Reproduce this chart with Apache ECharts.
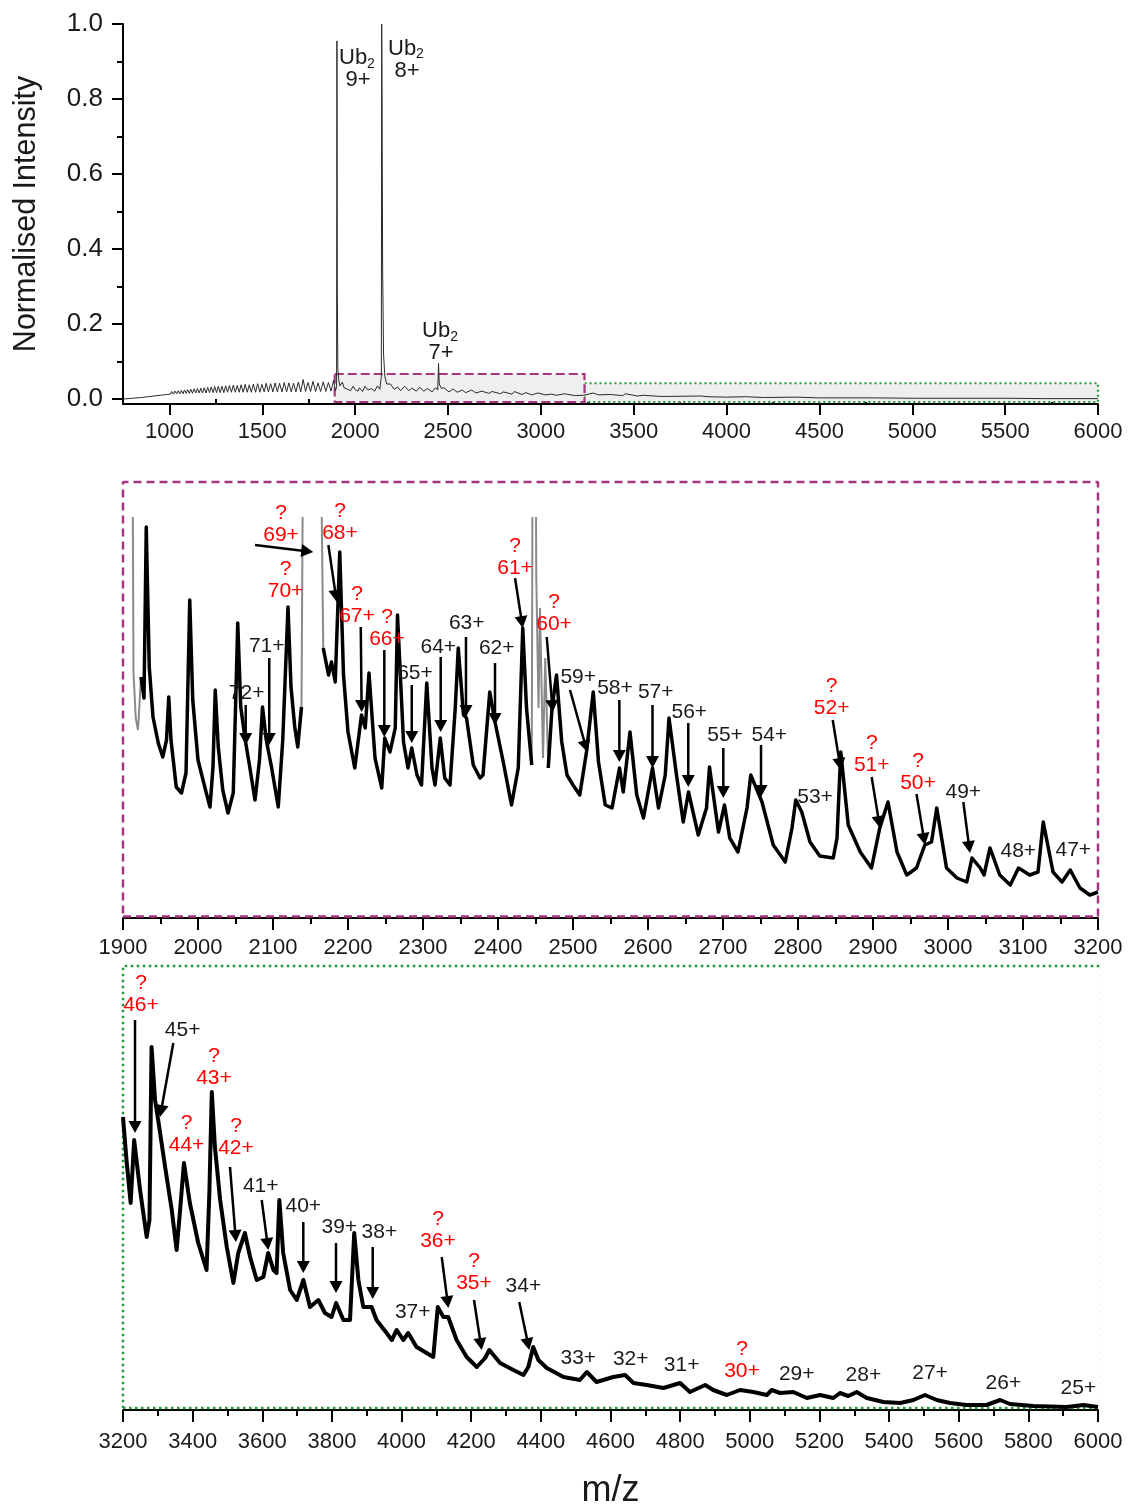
<!DOCTYPE html>
<html>
<head>
<meta charset="utf-8">
<script src="https://cdn.jsdelivr.net/npm/echarts@6/dist/echarts.min.js"></script>
<style>
html, body { margin: 0; padding: 0; background: #ffffff; }
#chart { width: 1129px; height: 1506px; }
</style>
</head>
<body>
<div id="chart"></div>
<script>
// ---------- Overview spectrum (normalised intensity vs m/z) ----------
const overviewTrace = [
  [750,0.000],[800,0.002],[850,0.004],[900,0.007],[950,0.010],[985,0.012],
  [1005,0.013],[1012,0.020],[1021,0.013],[1030,0.021],[1039,0.014],[1047,0.022],[1056,0.014],[1064,0.023],
  [1073,0.014],[1081,0.024],[1090,0.015],[1098,0.025],[1107,0.015],[1115,0.026],[1124,0.015],[1133,0.027],
  [1142,0.016],[1151,0.028],[1160,0.016],[1169,0.029],[1178,0.016],[1187,0.030],[1197,0.016],[1206,0.031],
  [1216,0.017],[1225,0.032],[1235,0.017],[1244,0.033],[1254,0.017],[1263,0.034],[1273,0.017],[1283,0.034],
  [1293,0.017],[1303,0.035],[1313,0.018],[1323,0.036],[1334,0.018],[1344,0.037],[1355,0.018],[1365,0.036],
  [1376,0.018],[1386,0.038],[1397,0.018],[1408,0.039],[1419,0.018],[1430,0.038],[1441,0.018],[1452,0.040],
  [1464,0.018],[1475,0.041],[1487,0.018],[1498,0.039],[1510,0.019],[1521,0.042],[1533,0.019],[1545,0.041],
  [1557,0.019],[1569,0.043],[1581,0.019],[1593,0.042],[1606,0.019],[1618,0.044],[1631,0.019],[1643,0.043],
  [1656,0.019],[1668,0.042],[1681,0.019],[1694,0.045],[1707,0.019],[1720,0.052],[1733,0.020],[1746,0.044],
  [1760,0.020],[1773,0.047],[1787,0.020],[1800,0.043],[1814,0.020],[1828,0.046],[1842,0.020],[1856,0.044],
  [1870,0.021],[1884,0.050],[1893,0.022],
  [1900,0.030],[1902,0.955],[1904,0.290],[1907,0.080],[1912,0.050],[1918,0.035],[1931,0.045],[1940,0.030],
  [1960,0.026],[1975,0.022],[1989,0.034],[2000,0.025],[2016,0.021],[2023,0.030],[2040,0.020],[2053,0.034],
  [2070,0.024],[2086,0.028],[2105,0.021],[2120,0.035],[2133,0.026],[2141,0.060],[2143,1.000],[2145,0.800],
  [2148,0.350],[2153,0.120],[2160,0.060],[2170,0.040],[2190,0.040],[2210,0.026],[2228,0.032],[2245,0.022],
  [2266,0.034],[2290,0.022],[2305,0.029],[2330,0.021],[2347,0.031],[2370,0.021],[2389,0.028],[2415,0.019],
  [2433,0.030],[2445,0.024],[2449,0.095],[2453,0.040],[2465,0.028],[2478,0.030],[2505,0.019],[2527,0.027],
  [2550,0.018],[2576,0.024],[2595,0.017],[2628,0.024],[2650,0.016],[2682,0.021],[2720,0.015],[2737,0.020],
  [2783,0.014],[2797,0.019],[2845,0.013],[2857,0.020],[2898,0.012],[2920,0.017],[2950,0.011],[2985,0.016],
  [3025,0.011],[3056,0.013],[3085,0.010],[3127,0.014],[3185,0.009],[3230,0.010],[3282,0.016],[3310,0.011],
  [3375,0.012],[3440,0.009],[3455,0.014],[3520,0.008],[3550,0.010],[3640,0.007],[3649,0.010],[3700,0.007],
  [3864,0.008],[3900,0.006],[4000,0.005],[4104,0.006],[4200,0.004],[4378,0.005],[4500,0.003],[4800,0.003],
  [5000,0.002],[5300,0.002],[5510,0.002],[5700,0.001],[6000,0.001]
];
const overviewXTicks = [1000,1500,2000,2500,3000,3500,4000,4500,5000,5500,6000];
const overviewXMinorTicks = [1250,1750,2250,2750,3250,3750,4250,4750,5250,5750];
const overviewYTicks = [0,0.2,0.4,0.6,0.8,1.0];
const overviewYMinorTicks = [0.1,0.3,0.5,0.7,0.9];

// Ub2 dimer peaks: label text (charge) and label anchor (m/z, intensity)
const dimerCharges = ['9+','8+','7+'];
const dimerLabelAnchor = [[2010.6,0.880],[2274.5,0.905],[2457.6,0.152]];

// Zoom windows drawn on the overview [m/z from, m/z to, intensity top, intensity bottom]
const lowWindow = [1890,3235,0.0667,-0.008];
const highWindow = [3235,6000,0.042,-0.008];

// ---------- Inset 1: m/z 1900 - 3200 ----------
// off-scale Ub2 dimer spikes (drawn as thin grey traces)
const lowDimerTrace = [
  [1900,0.06],[1905,0.9],[1912,0.06],[1914,0.0245],[1917,0.0200],[1920,0.0188],[1924,0.0241],[1926,'-'],
  [2138,0.0211],[2141,0.06],[2150,1.0],[2162,0.06],[2167,0.0270],[2168,'-'],
  [2445,0.0153],[2448,0.1],[2451,0.0343],[2454,0.0210],[2456,0.0310],[2460,0.0160],[2463,0.0260],[2467,0.0150]
];
const lowTrace = [
  [1924,0.0241],[1928,0.0220],
  [1931,0.0391],[1935,0.0251],[1940,0.0201],[1947,0.0175],[1953,0.0161],[1958,0.0178],[1961,0.0221],[1964,0.0178],
  [1971,0.0131],[1978,0.0125],[1984,0.0145],[1989,0.0318],[1993,0.0218],[2000,0.0158],[2009,0.0131],[2016,0.0111],
  [2020,0.0151],[2023,0.0228],[2027,0.0171],[2033,0.0128],[2040,0.0105],[2047,0.0125],[2053,0.0295],[2057,0.0211],
  [2063,0.0178],[2069,0.0151],[2076,0.0118],[2082,0.0158],[2086,0.0211],[2091,0.0178],[2098,0.0151],[2107,0.0111],
  [2113,0.0178],[2120,0.0311],[2124,0.0231],[2129,0.0191],[2133,0.0171],[2138,0.0211],[2150,'-'],
  [2167,0.0270],[2174,0.0243],[2178,0.0256],[2183,0.0236],[2189,0.0366],[2194,0.0243],[2200,0.0186],
  [2209,0.0150],[2218,0.0203],[2223,0.0190],[2228,0.0245],[2236,0.0160],[2245,0.0130],[2249,0.0180],[2256,0.0166],
  [2263,0.0190],[2266,0.0303],[2274,0.0176],[2280,0.0150],[2285,0.0170],[2292,0.0143],[2298,0.0133],[2305,0.0235],
  [2312,0.0150],[2316,0.0133],[2323,0.0180],[2329,0.0140],[2336,0.0133],[2343,0.0210],[2347,0.0270],[2354,0.0203],
  [2358,0.0200],[2367,0.0153],[2376,0.0140],[2380,0.0143],[2389,0.0226],[2396,0.0196],[2407,0.0156],[2418,0.0113],
  [2427,0.0150],[2433,0.0290],[2438,0.0210],[2445,0.0153],[2456,'-'],
  [2467,0.0150],[2472,0.0210],[2478,0.0243],[2485,0.0176],[2492,0.0143],[2500,0.0133],
  [2509,0.0123],[2518,0.0166],[2527,0.0226],[2534,0.0156],[2543,0.0113],[2552,0.0110],[2562,0.0150],[2567,0.0126],
  [2576,0.0186],[2585,0.0123],[2594,0.0100],[2606,0.0150],[2614,0.0110],[2623,0.0143],[2628,0.0200],[2638,0.0143],
  [2647,0.0096],[2654,0.0126],[2667,0.0083],[2678,0.0110],[2682,0.0151],[2694,0.0086],[2702,0.0113],[2709,0.0080],
  [2720,0.0066],[2732,0.0110],[2737,0.0143],[2752,0.0116],[2767,0.0073],[2783,0.0056],[2792,0.0090],[2797,0.0118],
  [2805,0.0106],[2816,0.0076],[2829,0.0062],[2847,0.0060],[2852,0.0080],[2857,0.0166],[2867,0.0093],[2883,0.0066],
  [2898,0.0050],[2909,0.0090],[2920,0.0116],[2932,0.0066],[2945,0.0043],[2958,0.0050],[2969,0.0073],[2978,0.0076],
  [2985,0.0110],[2998,0.0050],[3012,0.0040],[3025,0.0036],[3032,0.0060],[3043,0.0050],[3048,0.0043],[3056,0.0070],
  [3069,0.0043],[3083,0.0033],[3094,0.0050],[3109,0.0043],[3120,0.0046],[3127,0.0096],[3140,0.0046],[3152,0.0036],
  [3163,0.0048],[3176,0.0030],[3189,0.0023],[3200,0.0026]
];
const lowCharges = ['69+','70+','68+','67+','66+','61+','60+','52+','51+','50+',
                    '72+','71+','65+','64+','63+','62+','59+','58+','57+','56+','55+','54+','53+','49+','48+','47+'];
const lowTentative = [true,true,true,true,true,true,true,true,true,true,
                      false,false,false,false,false,false,false,false,false,false,false,false,false,false,false,false];
const lowLabelAnchor = [
  [2110.7,0.0394],[2116.7,0.0338],[2189.3,0.0396],[2212.0,0.0313],[2252.0,0.0290],[2422.7,0.0361],[2474.7,0.0305],
  [2844.9,0.0221],[2898.3,0.0164],[2960.0,0.0146],
  [2064.9,0.0225],[2091.6,0.0272],[2289.3,0.0245],[2320.4,0.0271],[2358.3,0.0295],[2398.3,0.0270],[2507.0,0.0241],
  [2556.0,0.0230],[2610.3,0.0226],[2655.1,0.0206],[2702.7,0.0183],[2761.7,0.0183],[2822.7,0.0121],[3020.4,0.0126],
  [3093.7,0.0067],[3167.1,0.0068]
];
// arrows: [m/z start, intensity start, m/z tip, intensity tip]
const lowArrows = [
  [2076,0.0373,2153.7,0.0366],[2173.8,0.0373,2185,0.0316],[2217,0.0291,2218.2,0.0206],[2248.4,0.0268,2248.4,0.0181],
  [2285,0.0233,2285,0.0175],[2323.6,0.0261,2323.6,0.0186],[2357.3,0.0281,2357.3,0.0201],[2063.6,0.0213,2063.6,0.0173],
  [2095,0.0260,2095,0.0173],[2396,0.0255,2396,0.0193],[2422.7,0.0340,2433,0.0290],[2465,0.0281,2473,0.0206],
  [2496,0.0228,2519,0.0166],[2561.8,0.0218,2561.8,0.0156],[2606,0.0213,2606,0.0150],[2653.7,0.0195,2653.7,0.0131],
  [2700.4,0.0170,2700.4,0.0120],[2750.7,0.0173,2750.7,0.0121],[2846.3,0.0198,2857,0.0148],[2898.2,0.0141,2909.3,0.0090],
  [2958,0.0124,2969.3,0.0073],[3020.4,0.0116,3029.3,0.0065]
];
const lowFrame = [1900,3200,0.0436,0.00015];

// ---------- Inset 2: m/z 3200 - 6000 ----------
const highTrace = [
  [3200,0.0293],[3210,0.0250],[3222,0.0207],[3232,0.0270],[3249,0.0220],[3268,0.0173],[3276,0.0190],[3282,0.0363],
  [3292,0.0310],[3301,0.0290],[3321,0.0243],[3340,0.0200],[3354,0.0160],[3364,0.0200],[3375,0.0247],[3392,0.0207],
  [3416,0.0167],[3440,0.0140],[3448,0.0217],[3455,0.0318],[3464,0.0263],[3479,0.0210],[3498,0.0163],[3517,0.0127],
  [3531,0.0157],[3550,0.0177],[3565,0.0153],[3584,0.0130],[3603,0.0133],[3617,0.0157],[3632,0.0140],[3641,0.0137],
  [3649,0.0210],[3660,0.0157],[3680,0.0120],[3699,0.0110],[3718,0.0130],[3737,0.0103],[3761,0.0110],[3780,0.0097],
  [3799,0.0093],[3812,0.0107],[3833,0.0090],[3852,0.0090],[3864,0.0177],[3876,0.0130],[3890,0.0103],[3914,0.0103],
  [3928,0.0090],[3957,0.0077],[3972,0.0070],[3986,0.0080],[4005,0.0070],[4019,0.0077],[4043,0.0063],[4072,0.0057],
  [4091,0.0053],[4104,0.0103],[4120,0.0093],[4134,0.0093],[4158,0.0070],[4187,0.0053],[4216,0.0043],[4240,0.0052],
  [4252,0.0060],[4283,0.0047],[4321,0.0040],[4350,0.0035],[4364,0.0043],[4378,0.0063],[4393,0.0050],[4417,0.0042],
  [4465,0.0033],[4512,0.0030],[4532,0.0038],[4560,0.0028],[4608,0.0033],[4642,0.0035],[4666,0.0027],[4704,0.0025],
  [4752,0.0022],[4800,0.0027],[4828,0.0018],[4872,0.0025],[4895,0.0020],[4934,0.0015],[4972,0.0020],[5010,0.0018],
  [5049,0.0015],[5063,0.0020],[5087,0.0017],[5125,0.0018],[5164,0.0012],[5202,0.0015],[5240,0.0012],[5259,0.0017],
  [5283,0.0014],[5307,0.0018],[5336,0.0012],[5384,0.0008],[5432,0.0007],[5470,0.0010],[5503,0.0015],[5537,0.0010],
  [5575,0.0007],[5623,0.0005],[5680,0.0005],[5719,0.0010],[5747,0.0006],[5814,0.0004],[5910,0.0003],[5958,0.0005],
  [6000,0.0003]
];
const highCharges = ['46+','43+','44+','42+','36+','35+','30+',
                     '45+','41+','40+','39+','38+','37+','34+','33+','32+','31+','29+','28+','27+','26+','25+'];
const highTentative = [true,true,true,true,true,true,true,
                       false,false,false,false,false,false,false,false,false,false,false,false,false,false,false];
const highLabelAnchor = [
  [3251.7,0.0416],[3461.3,0.0343],[3382.4,0.0276],[3524.5,0.0273],[4104.6,0.0180],[4208.0,0.0138],[4977.6,0.0050],
  [3371.4,0.0380],[3595.6,0.0224],[3717.8,0.0204],[3821.2,0.0183],[3936.3,0.0178],[4032.0,0.0098],[4349.7,0.0124],
  [4507.6,0.0052],[4658.1,0.0051],[4804.4,0.0045],[5134.8,0.0036],[5326.1,0.0035],[5517.6,0.0037],[5728.3,0.0027],
  [5943.6,0.0022]
];
const highArrows = [
  [3234.5,0.0390,3234.5,0.0277],[3344.5,0.0367,3306.3,0.0293],[3507.3,0.0243,3524.5,0.0168],[3598.3,0.0210,3617.3,0.0160],
  [3717.8,0.0188,3717.8,0.0137],[3811.7,0.0167,3811.7,0.0117],[3917.1,0.0163,3917.1,0.0111],[4115.3,0.0153,4134.4,0.0102],
  [4208,0.0110,4230,0.0060],[4338,0.0108,4366.8,0.0060]
];
const highFrame = [3200,6009,0.0444,0.0002];

// ---------- styling ----------
const SANS = "'Liberation Sans', Arial, Helvetica, sans-serif";
const INK = '#1a1a1a';
const RED = '#ff0000';
const PURPLE = '#a6357f';
const GREEN = '#22983a';

const chart = echarts.init(document.getElementById('chart'), null, { renderer: 'canvas' });

const axisLineStyle = { color: '#000', width: 2 };
const plainNumber = v => String(Math.round(v));

function frameData(f) {
  return [[f[0], f[3]], [f[1], f[3]], [f[1], f[2]], [f[0], f[2]], [f[0], f[3]]];
}

function arrowSeries(xi, yi, arrows) {
  return {
    type: 'custom', xAxisIndex: xi, yAxisIndex: yi, clip: false, silent: true, z: 4,
    data: arrows, encode: { x: [0, 2], y: [1, 3] },
    renderItem(params, api) {
      const a = api.coord([api.value(0), api.value(1)]);
      const b = api.coord([api.value(2), api.value(3)]);
      const dx = b[0] - a[0], dy = b[1] - a[1];
      const len = Math.sqrt(dx * dx + dy * dy) || 1;
      const ux = dx / len, uy = dy / len;
      const hl = 12, hw = 6.5;
      const bx = b[0] - ux * hl, by = b[1] - uy * hl;
      return {
        type: 'group',
        children: [
          { type: 'line', shape: { x1: a[0], y1: a[1], x2: bx + ux, y2: by + uy },
            style: { stroke: '#000', lineWidth: 2.5 } },
          { type: 'polygon',
            shape: { points: [[b[0], b[1]], [bx - uy * hw, by + ux * hw], [bx + uy * hw, by - ux * hw]] },
            style: { fill: '#000' } }
        ]
      };
    }
  };
}

function chargeLabelSeries(xi, yi, anchors, charges, tentative) {
  return {
    type: 'custom', xAxisIndex: xi, yAxisIndex: yi, clip: false, silent: true, z: 5,
    data: anchors.map((p, i) => [p[0], p[1], i]), encode: { x: 0, y: 1 },
    renderItem(params, api) {
      const i = api.value(2);
      const pt = api.coord([api.value(0), api.value(1)]);
      if (tentative[i]) {
        return {
          type: 'text', x: pt[0], y: pt[1],
          style: {
            text: '{q|?}\n{c|' + charges[i] + '}',
            align: 'center', verticalAlign: 'middle',
            rich: {
              q: { fill: RED, fontSize: 21, fontFamily: SANS, lineHeight: 22, align: 'center' },
              c: { fill: RED, fontSize: 21, fontFamily: SANS, lineHeight: 22, align: 'center' }
            }
          }
        };
      }
      return {
        type: 'text', x: pt[0], y: pt[1],
        style: { text: charges[i], align: 'center', verticalAlign: 'middle',
                 fill: INK, fontSize: 21, fontFamily: SANS }
      };
    }
  };
}

const gridBase = { left: 123, width: 975, containLabel: false, outerBoundsMode: 'none' };

const option = {
  animation: false,
  backgroundColor: '#ffffff',
  grid: [
    Object.assign({ top: 24, height: 380 }, gridBase),
    Object.assign({ top: 24, height: 380 }, gridBase),
    Object.assign({ top: 518, height: 400 }, gridBase),
    Object.assign({ top: 1010, height: 400 }, gridBase)
  ],
  xAxis: [
    { gridIndex: 0, type: 'value', min: 750, max: 6000,
      axisLine: { onZero: false, lineStyle: axisLineStyle },
      axisTick: { customValues: overviewXTicks, length: 11, lineStyle: axisLineStyle },
      axisLabel: { customValues: overviewXTicks, margin: 17, fontSize: 22, fontFamily: SANS, color: INK,
                   formatter: plainNumber },
      splitLine: { show: false } },
    { gridIndex: 1, type: 'value', min: 750, max: 6000,
      axisLine: { show: false },
      axisTick: { customValues: overviewXMinorTicks, length: 6, lineStyle: axisLineStyle },
      axisLabel: { show: false }, splitLine: { show: false } },
    { gridIndex: 2, type: 'value', min: 1900, max: 3200, interval: 100,
      axisLine: { onZero: false, lineStyle: axisLineStyle },
      axisTick: { length: 12, lineStyle: axisLineStyle },
      minorTick: { show: true, splitNumber: 2, length: 6, lineStyle: axisLineStyle },
      axisLabel: { margin: 19, fontSize: 22, fontFamily: SANS, color: INK, formatter: plainNumber },
      splitLine: { show: false }, minorSplitLine: { show: false } },
    { gridIndex: 3, type: 'value', min: 3200, max: 6000, interval: 200,
      axisLine: { onZero: false, lineStyle: axisLineStyle },
      axisTick: { length: 12, lineStyle: axisLineStyle },
      minorTick: { show: true, splitNumber: 2, length: 6, lineStyle: axisLineStyle },
      axisLabel: { margin: 21, fontSize: 22, fontFamily: SANS, color: INK, formatter: plainNumber },
      splitLine: { show: false }, minorSplitLine: { show: false },
      name: 'm/z', nameLocation: 'middle', nameGap: 63,
      nameTextStyle: { fontSize: 36, fontFamily: SANS, color: INK } }
  ],
  yAxis: [
    { gridIndex: 0, type: 'value', min: -0.0133, max: 1.0,
      axisLine: { show: true, onZero: false, lineStyle: axisLineStyle },
      axisTick: { customValues: overviewYTicks, length: 11, lineStyle: axisLineStyle },
      axisLabel: { customValues: overviewYTicks, margin: 20, fontSize: 26, fontFamily: SANS, color: INK,
                   formatter: v => Number(v).toFixed(1) },
      splitLine: { show: false },
      name: 'Normalised Intensity', nameLocation: 'middle', nameGap: 81,
      nameTextStyle: { fontSize: 30.5, fontFamily: SANS, color: INK } },
    { gridIndex: 1, type: 'value', min: -0.0133, max: 1.0,
      axisLine: { show: false },
      axisTick: { customValues: overviewYMinorTicks, length: 6, lineStyle: axisLineStyle },
      axisLabel: { show: false }, splitLine: { show: false } },
    { gridIndex: 2, type: 'value', min: 0, max: 0.04, show: false },
    { gridIndex: 3, type: 'value', min: 0, max: 0.04, show: false }
  ],
  series: [
    // overview spectrum with the two zoom windows shaded
    { type: 'line', xAxisIndex: 0, yAxisIndex: 0, data: overviewTrace, showSymbol: false, clip: true,
      lineStyle: { color: '#2b2b2b', width: 1 }, z: 3, silent: true,
      markArea: {
        silent: true,
        data: [
          [ { coord: [highWindow[0], highWindow[2]],
              itemStyle: { color: '#efefef', borderColor: GREEN, borderWidth: 2.2, borderType: [2, 3] } },
            { coord: [highWindow[1], highWindow[3]] } ],
          [ { coord: [lowWindow[0], lowWindow[2]],
              itemStyle: { color: '#efefef', borderColor: PURPLE, borderWidth: 2.2, borderType: [9, 4] } },
            { coord: [lowWindow[1], lowWindow[3]] } ]
        ]
      } },
    // Ub2 dimer labels
    { type: 'custom', xAxisIndex: 0, yAxisIndex: 0, clip: false, silent: true, z: 5,
      data: dimerLabelAnchor.map((p, i) => [p[0], p[1], i]), encode: { x: 0, y: 1 },
      renderItem(params, api) {
        const i = api.value(2);
        const pt = api.coord([api.value(0), api.value(1)]);
        const f = { fontFamily: SANS, fill: INK, verticalAlign: 'middle' };
        return {
          type: 'group',
          children: [
            { type: 'text', x: pt[0] - 4, y: pt[1] - 11,
              style: Object.assign({ text: 'Ub', fontSize: 22, align: 'center' }, f) },
            { type: 'text', x: pt[0] + 10, y: pt[1] - 5,
              style: Object.assign({ text: '2', fontSize: 14, align: 'left' }, f) },
            { type: 'text', x: pt[0] + 1, y: pt[1] + 11,
              style: Object.assign({ text: dimerCharges[i], fontSize: 22, align: 'center' }, f) }
          ]
        };
      } },

    // inset 1
    { type: 'line', xAxisIndex: 2, yAxisIndex: 2, data: frameData(lowFrame), showSymbol: false, clip: false,
      silent: true, z: 1, lineStyle: { color: PURPLE, width: 2.5, type: [8, 5] } },
    { type: 'line', xAxisIndex: 2, yAxisIndex: 2, data: lowDimerTrace, showSymbol: false, clip: true,
      connectNulls: false, silent: true, z: 2, lineStyle: { color: '#8a8a8a', width: 2 } },
    { type: 'line', xAxisIndex: 2, yAxisIndex: 2, data: lowTrace, showSymbol: false, clip: true,
      connectNulls: false, silent: true, z: 3, lineStyle: { color: '#000', width: 3.5, join: 'round' } },
    arrowSeries(2, 2, lowArrows),
    chargeLabelSeries(2, 2, lowLabelAnchor, lowCharges, lowTentative),

    // inset 2
    { type: 'line', xAxisIndex: 3, yAxisIndex: 3, data: frameData(highFrame), showSymbol: false, clip: false,
      silent: true, z: 1, lineStyle: { color: GREEN, width: 2.5, type: [2.5, 3.5] } },
    { type: 'line', xAxisIndex: 3, yAxisIndex: 3, data: highTrace, showSymbol: false, clip: true,
      silent: true, z: 3, lineStyle: { color: '#000', width: 4, join: 'round' } },
    arrowSeries(3, 3, highArrows),
    chargeLabelSeries(3, 3, highLabelAnchor, highCharges, highTentative)
  ]
};

chart.setOption(option);
</script>
</body>
</html>
